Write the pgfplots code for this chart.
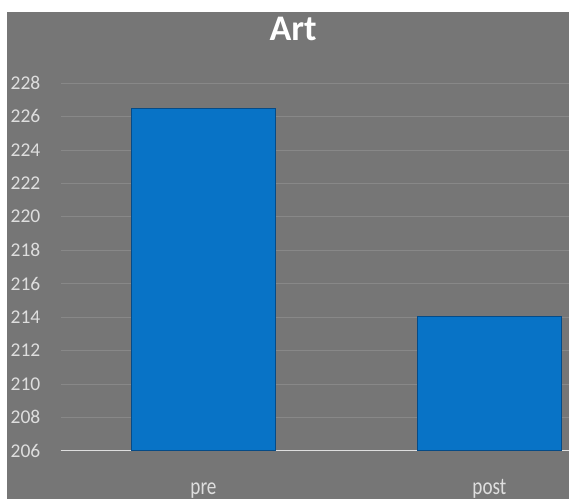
\documentclass[border=0pt]{standalone}
\usepackage{pgfplots}
\pgfplotsset{compat=1.18}
\usepackage{fontspec}
\setmainfont{Carlito}
\newfontfamily\narrowfont[FakeStretch=0.8]{Carlito}
\definecolor{bg}{RGB}{118,118,118}
\definecolor{barblue}{RGB}{8,115,198}
\definecolor{bardark}{RGB}{5,75,135}
\definecolor{gridc}{RGB}{136,136,136}
\definecolor{lbl}{RGB}{222,222,222}
\begin{document}
\begin{tikzpicture}
\useasboundingbox (0,0) rectangle (569pt,499pt);
\clip (0,0) rectangle (569pt,499pt);
\fill[white] (0,0) rectangle (569pt,499pt);
\fill[bg] (7pt,0) rectangle (569pt,487pt);
\begin{axis}[
  at={(60.5pt,48.3pt)}, anchor=south west,
  scale only axis, width=509pt, height=367.7pt,
  xmin=-0.5, xmax=1.28, ymin=206, ymax=228,
  ytick={206,208,...,228},
  xtick={0,1}, xticklabels={pre,post},
  separate axis lines,
  axis x line*=bottom,
  x axis line style={-, draw=lbl, line width=1.5pt},
  y axis line style={draw=none},
  major tick length=0pt,
  tick style={draw=none},
  ymajorgrids,
  grid style={draw=gridc, line width=0.6pt},
  every axis title/.style={at={(0.457,1)}, anchor=base, yshift=43pt},
  title style={font=\bfseries\fontsize{36}{36}\selectfont, text=white},
  title={Art},
  /pgf/number format/assume math mode=true,
  yticklabel style={font=\fontsize{19.5}{19.5}\selectfont, text=lbl, anchor=east, inner sep=0pt, xshift=-20pt},
  xticklabel style={font=\narrowfont\fontsize{24}{24}\selectfont, text=lbl, anchor=base, inner sep=0pt, yshift=-44pt},
  ybar, bar width=144pt,
]
\addplot[ybar, fill=barblue, draw=bardark, line width=1pt] coordinates {(0,226.5) (1,214)};
\end{axis}
\end{tikzpicture}
\end{document}
